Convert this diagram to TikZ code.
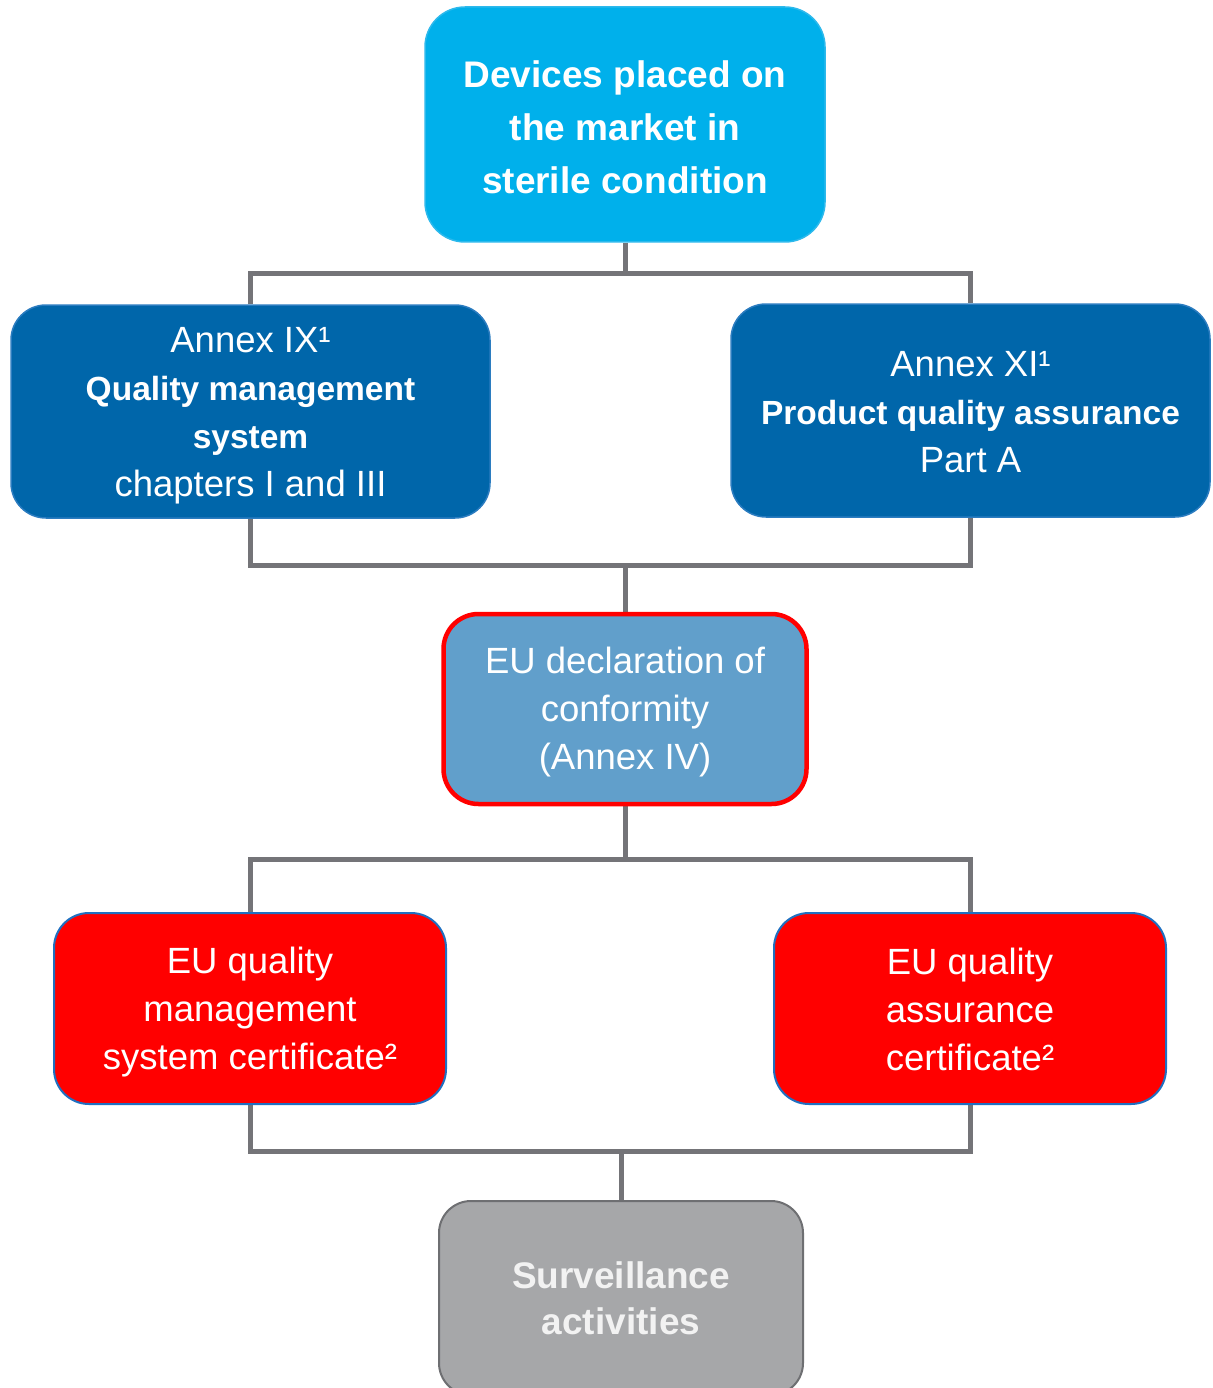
\documentclass[tikz,border=0pt]{standalone}
\usepackage{fontspec}
\setmainfont{Liberation Sans}
\usetikzlibrary{backgrounds}

\definecolor{skyblue}{HTML}{00B0EB}
\definecolor{skyedge}{HTML}{2DB9EC}
\definecolor{annexblue}{HTML}{0066AA}
\definecolor{annexedge}{HTML}{2B7CC0}
\definecolor{declblue}{HTML}{619FCB}
\definecolor{decledge}{HTML}{FF0000}
\definecolor{certred}{HTML}{FF0000}
\definecolor{certedge}{HTML}{1F70C1}
\definecolor{survgray}{HTML}{A6A7A9}
\definecolor{survedge}{HTML}{6E6F72}
\definecolor{linkgray}{HTML}{747478}

\newcommand{\bodyfont}{\fontsize{36.5}{48}\selectfont}
\newcommand{\headfont}{\fontsize{33.5}{48}\selectfont\bfseries}
% invisible struts that fix the vertical placement of the text blocks
\newcommand{\ls}{\rule[-6pt]{0pt}{39pt}}
\newcommand{\lt}{\rule[-6pt]{0pt}{44pt}}

\begin{document}
\begin{tikzpicture}[x=1pt,y=-1pt,
  box/.style={rectangle, rounded corners=35pt, align=center, text=white,
              inner sep=0pt, anchor=center, font=\bodyfont},
  topbox/.style={box, fill=skyblue, draw=skyedge, line width=1.5pt,
                 rounded corners=40pt, font=\fontsize{37}{53}\selectfont\bfseries},
  annexbox/.style={box, fill=annexblue, draw=annexedge, line width=1.5pt},
  declbox/.style={box, fill=declblue, draw=decledge, line width=4.5pt},
  certbox/.style={box, fill=certred, draw=certedge, line width=2pt},
  survbox/.style={box, fill=survgray, draw=survedge, line width=2pt,
                  rounded corners=32pt, text=white!95!black,
                  font=\fontsize{37}{46}\selectfont\bfseries},
  link/.style={draw=linkgray, line width=5pt, line join=miter}
]
\clip (0,0) rectangle (1212,1388);

% boxes
\node[topbox, minimum width=400pt, minimum height=235pt] (top) at (625,124.5)
  {\lt Devices placed on\\the market in\\sterile condition\lt};

\node[annexbox, minimum width=479pt, minimum height=213pt] (annexL) at (250.5,411.5)
  {\ls Annex IX¹\\{\headfont Quality management}\\{\headfont system}\\chapters I and III\ls};

\node[annexbox, minimum width=479pt, minimum height=213pt] (annexR) at (970.5,410.5)
  {\ls Annex XI¹\\{\headfont Product quality assurance}\\Part A\ls};

\node[declbox, minimum width=363pt, minimum height=190pt] (decl) at (625,709)
  {\ls EU declaration of\\conformity\\(Annex IV)\ls};

\node[certbox, minimum width=392pt, minimum height=191pt] (certL) at (250,1008.5)
  {\ls EU quality\\management\\system certificate²\ls};

\node[certbox, minimum width=392pt, minimum height=191pt] (certR) at (970,1008.5)
  {\ls EU quality\\assurance\\certificate²\ls};

\node[survbox, minimum width=364pt, minimum height=194pt] (surv) at (621,1298)
  {Surveillance\\activities};

% junction points of the connectors
\coordinate (j1) at (625,273);
\coordinate (j2) at (625,565);
\coordinate (j3) at (625,859);
\coordinate (j4) at (621,1151);

\begin{scope}[on background layer]
  \draw[link] (top.south) -- (j1);
  \draw[link] (annexL.north) |- (j1) -| (annexR.north);
  \draw[link] (annexL.south) |- (j2) -| (annexR.south);
  \draw[link] (j2) -- (decl.north);
  \draw[link] (decl.south) -- (j3);
  \draw[link] (certL.north) |- (j3) -| (certR.north);
  \draw[link] (certL.south) |- (j4) -| (certR.south);
  \draw[link] (j4) -- (surv.north);
\end{scope}
\end{tikzpicture}
\end{document}
